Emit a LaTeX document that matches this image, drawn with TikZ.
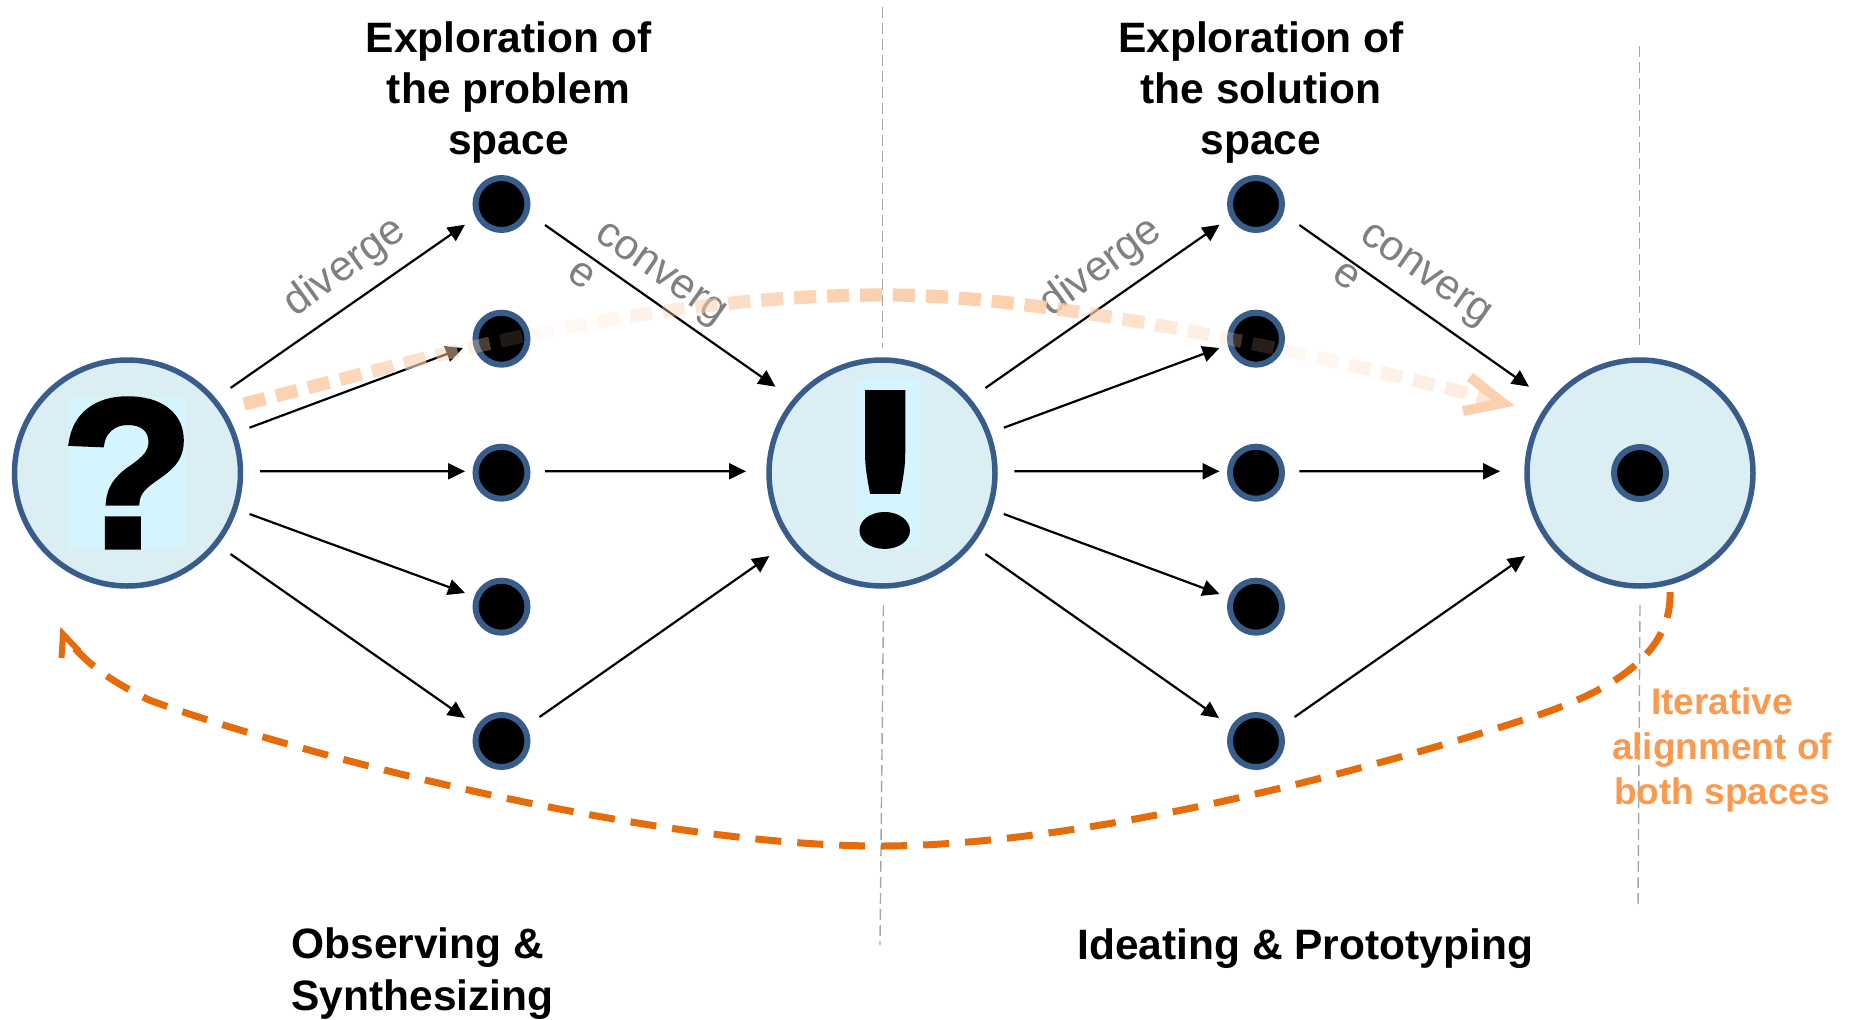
\documentclass[tikz,border=0pt]{standalone}
\usepackage{fontspec}
\usepackage{graphicx}
\setmainfont{Liberation Sans}
\newfontfamily\heavyface[FakeBold=2.5]{Liberation Sans Bold}
\newfontfamily\exclface[FakeBold=2.5]{Lato Bold}
\usetikzlibrary{arrows.meta,calc,decorations.markings}
\definecolor{ringblue}{HTML}{385D8A}
\definecolor{hubfill}{HTML}{DAEEF3}
\definecolor{glyphbg}{HTML}{D4F5FD}
\definecolor{darkorange}{HTML}{E46C0A}
\definecolor{lightorange}{HTML}{FBD0AE}
\definecolor{labelorange}{HTML}{FA9A50}
\definecolor{sepgrey}{HTML}{A6A6A6}
\tikzset{
  hub/.style={circle,draw=ringblue,line width=2.75pt,fill=hubfill,minimum size=113pt,inner sep=0pt},
  dot/.style={circle,draw=ringblue,line width=3pt,fill=black,minimum size=26pt,inner sep=0pt},
  conn/.style={line width=1.1pt,black,-{Triangle[length=8.5pt,width=8pt]}},
  sep/.style={sepgrey,line width=.7pt,dash pattern=on 5.5pt off 2.5pt},
  heading/.style={font=\fontsize{21.25}{25.6}\selectfont\bfseries,align=center,inner sep=0pt},
  bottomlabel/.style={font=\fontsize{21.25}{26}\selectfont\bfseries,align=left,inner sep=0pt,anchor=west},
  iter/.style={font=\fontsize{18.5}{22.5}\selectfont\bfseries,text=labelorange,align=center,inner sep=0pt},
  flow/.style={font=\fontsize{21.25}{24}\selectfont,text=gray,inner sep=0pt},
  glyphbox/.style={fill=glyphbg,draw=none,inner sep=0pt},
  darkdash/.style={darkorange,line width=3.5pt,dash pattern=on 13pt off 8pt},
  barb/.style={line join=miter,miter limit=10}
}
\begin{document}
\begin{tikzpicture}[x=.5pt,y=-.5pt]
\useasboundingbox (0,0) rectangle (1849,1019);
% separators
\coordinate (s1t) at (882.5,7); \coordinate (s1m) at (882.5,348);
\coordinate (s1n) at (883.5,605); \coordinate (s1b) at (880,945);
\coordinate (s2t) at (1639.5,46); \coordinate (s2m) at (1639.5,348);
\coordinate (s2n) at (1640,605); \coordinate (s2b) at (1638,907);
\draw[sep] (s1t) -- (s1m);
\draw[sep] (s1n) -- (s1b);
\draw[sep] (s2t) -- (s2m);
\draw[sep] (s2n) -- (s2b);
% hubs
\node[hub] (q) at (127.5,473) {};
\node[hub] (x) at (882,473) {};
\node[hub] (z) at (1640,473) {};
\node[dot] (d) at (1640,473) {};
\node[glyphbox,minimum width=58.5pt,minimum height=76pt] (qbg) at (127.5,473) {};
\node[glyphbox,minimum width=32pt,minimum height=85.5pt] (xbg) at (889,463.5) {};
\node[inner sep=0pt] (qm) at (127.5,473) {\resizebox{66pt}{74pt}{\heavyface ?}};
\node[inner sep=0pt] (em) at (885,469.5) {\resizebox{40pt}{76pt}{\exclface !}};
% dots
\foreach \n/\y in {1/204,2/338.7,3/472.7,4/606.7,5/741}{
  \node[dot] (a\n) at (501.5,\y) {};
  \node[dot] (b\n) at (1256,\y) {};
}
% connectors: problem space
\draw[conn] ($(q)+(103,-85)$) -- ($(a1)+(-36.5,20.7)$);
\draw[conn] ($(q)+(122,-45.3)$) -- ($(a2)+(-38.5,9.3)$);
\draw[conn] ($(q)+(132.5,-1.7)$) -- ($(a3)+(-36.5,-1.4)$);
\draw[conn] ($(q)+(122,41)$) -- ($(a4)+(-36.5,-13.7)$);
\draw[conn] ($(q)+(103,81)$) -- ($(a5)+(-36.5,-23)$);
\draw[conn] ($(a1)+(43.5,21)$) -- ($(x)+(-106.5,-86.3)$);
\draw[conn] ($(a3)+(43.5,-1.4)$) -- ($(x)+(-136,-1.7)$);
\draw[conn] ($(a5)+(38,-24)$) -- ($(x)+(-112.6,83)$);
% connectors: solution space
\draw[conn] ($(x)+(103.4,-85)$) -- ($(b1)+(-36.5,20.7)$);
\draw[conn] ($(x)+(121.8,-45.3)$) -- ($(b2)+(-36.5,9.3)$);
\draw[conn] ($(x)+(132.4,-1.7)$) -- ($(b3)+(-36.5,-1.4)$);
\draw[conn] ($(x)+(121.8,41)$) -- ($(b4)+(-36.5,-12.7)$);
\draw[conn] ($(x)+(103.4,81)$) -- ($(b5)+(-37,-23)$);
\draw[conn] ($(b1)+(43.4,21)$) -- ($(z)+(-111,-86.3)$);
\draw[conn] ($(b3)+(43.4,-1.4)$) -- ($(z)+(-140,-1.7)$);
\draw[conn] ($(b5)+(38.6,-24)$) -- ($(z)+(-115,83)$);
% flow labels
\node[flow,rotate=36] (dv1) at (345,268) {diverge};
\node[flow,rotate=36] (dv2) at (1101,268) {diverge};
\node[flow,rotate=-35,align=left] (cv1) at (648,292) {converg\\e};
\node[flow,rotate=-35,align=left] (cv2) at (1413,293) {converg\\e};
% faded alignment arrow
\coordinate (la) at (244,404);
\coordinate (lb) at (885,295);
\coordinate (lc) at (1497,401);
\path[decorate,decoration={markings,
  mark=between positions 0 and 1 step 16.5pt with {
    \pgfmathsetmacro\dashop{{1,.95,.9,.85,.75,.65,.5,.3,.13,.1,.15,.2,.3,.4,.55,.7,.8,.9,.95,1,1,1,1,.95,.9,.8,.7,.6,.45,.35,.25,.15,.15,.2,.25,.3,.35,.4,.5,.6,.7,.8,.9,1,1,1,1,1,1,1}[\pgfkeysvalueof{/pgf/decoration/mark info/sequence number}-1]}
    \fill[lightorange,fill opacity=\dashop] (0pt,-3.3pt) rectangle (11pt,3.3pt);
  }}]
  (la) .. controls (420,360) and (640,295) .. (lb)
       .. controls (1040,295) and (1280,345) .. (lc);
\coordinate (lt) at (1503,403);
\coordinate (lu) at (1470,377);
\coordinate (lv) at (1463,411);
\draw[lightorange,line width=5pt,barb] (lu) -- (lt) -- (lv);
% iteration arrow
\coordinate (da) at (1670,592);
\coordinate (db) at (1523,720);
\coordinate (dc) at (880,846);
\coordinate (dd) at (149,700);
\coordinate (de) at (72,645);
\draw[darkdash]
  (da) .. controls (1672,650) and (1620,690) .. (db)
       .. controls (1400,760) and (1100,846) .. (dc)
       .. controls (650,846) and (300,755) .. (dd)
       .. controls (125,688) and (95,672) .. (de);
\coordinate (dt) at (63,634);
\coordinate (du) at (61.5,658);
\coordinate (dv) at (79,651);
\draw[darkorange,line width=3pt,barb] (du) -- (dt) -- (dv);
% texts
\node[heading] (h1) at (508.5,92.5) {Exploration of\\the problem\\space};
\node[heading] (h2) at (1261,92.5) {Exploration of\\the solution\\space};
\node[bottomlabel] (l1) at (291,974) {Observing \&\\Synthesizing};
\node[bottomlabel] (l2) at (1077,949) {Ideating \& Prototyping};
\node[iter] (it) at (1722,749.5) {Iterative\\alignment of\\both spaces};
\end{tikzpicture}
\end{document}
